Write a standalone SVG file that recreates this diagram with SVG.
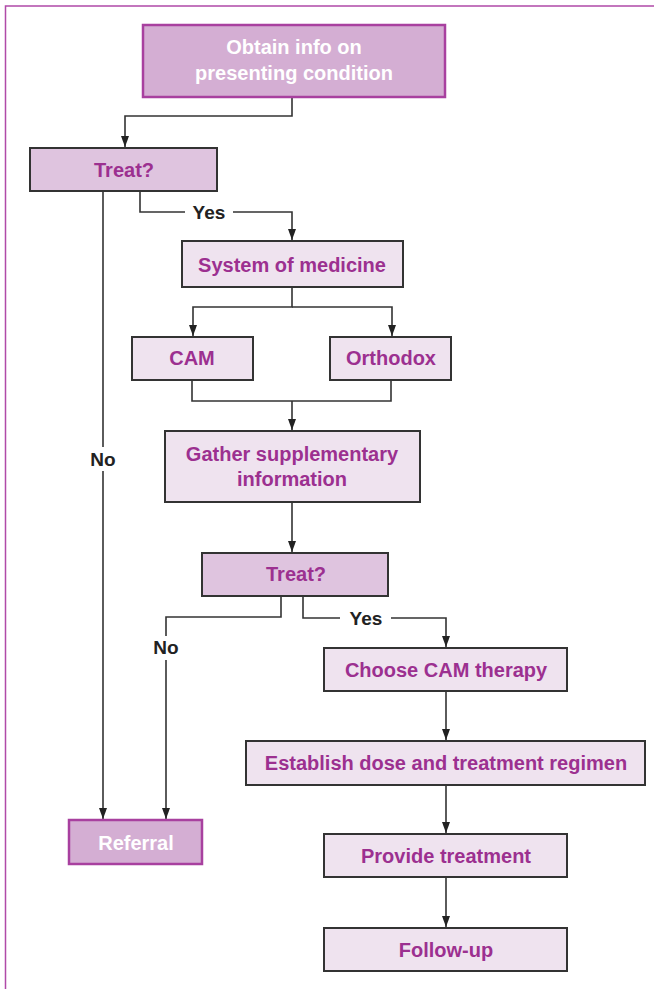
<svg xmlns="http://www.w3.org/2000/svg" width="654" height="989" viewBox="0 0 654 989">
<style>
.box{stroke:#333;stroke-width:2}
.light{fill:#efe3ef}
.mid{fill:#dfc4df}
.dark{fill:#d4aed3;stroke:#a8409f;stroke-width:2.5}
.t{font-family:"Liberation Sans",Arial,sans-serif;font-weight:bold;font-size:20px;fill:#9c3090;text-anchor:middle}
.w{fill:#ffffff}
.lbl{font-family:"Liberation Sans",Arial,sans-serif;font-weight:bold;font-size:19px;fill:#222;text-anchor:middle}
.c{fill:none;stroke:#333;stroke-width:1.6}
</style>
<defs>
<marker id="a" markerWidth="12" markerHeight="12" refX="11" refY="6" orient="auto" markerUnits="userSpaceOnUse">
<path d="M0,2 L11,6 L0,10 Z" fill="#222"/>
</marker>
</defs>
<rect width="654" height="989" fill="#fff"/>
<path d="M5.5,989 V6 H654" fill="none" stroke="#b04aa8" stroke-width="1.5"/>

<g id="connectors">
<path class="c" d="M292,97 V116 H125 V147" marker-end="url(#a)"/>
<path class="c" d="M140,192 V212 H185"/>
<path class="c" d="M233,212 H292 V240" marker-end="url(#a)"/>
<path class="c" d="M103,192 V447"/>
<path class="c" d="M103,471 V819" marker-end="url(#a)"/>
<path class="c" d="M292,287 V307 H193 V336" marker-end="url(#a)"/>
<path class="c" d="M292,307 H392 V336" marker-end="url(#a)"/>
<path class="c" d="M192,380 V401 H391 V380"/>
<path class="c" d="M292,401 V430" marker-end="url(#a)"/>
<path class="c" d="M292,502 V552" marker-end="url(#a)"/>
<path class="c" d="M281,596 V617 H166 V636"/>
<path class="c" d="M166,660 V819" marker-end="url(#a)"/>
<path class="c" d="M303,596 V618 H340"/>
<path class="c" d="M391,618 H446 V647" marker-end="url(#a)"/>
<path class="c" d="M446,691 V740" marker-end="url(#a)"/>
<path class="c" d="M446,785 V833" marker-end="url(#a)"/>
<path class="c" d="M446,877 V927" marker-end="url(#a)"/>
<text class="lbl" x="209" y="219">Yes</text>
<text class="lbl" x="103" y="466">No</text>
<text class="lbl" x="166" y="654">No</text>
<text class="lbl" x="366" y="625">Yes</text>
</g>

<g id="obtain">
<rect class="dark" x="143" y="25" width="302" height="72"/>
<text class="t w" x="294" y="54">Obtain info on</text>
<text class="t w" x="294" y="80">presenting condition</text>
</g>
<g id="treat1">
<rect class="box mid" x="30" y="148" width="187" height="43"/>
<text class="t" x="124" y="177">Treat?</text>
</g>
<g id="system">
<rect class="box light" x="182" y="241" width="221" height="46"/>
<text class="t" x="292" y="272">System of medicine</text>
</g>
<g id="cam">
<rect class="box light" x="132" y="337" width="121" height="43"/>
<text class="t" x="192" y="365">CAM</text>
</g>
<g id="orthodox">
<rect class="box light" x="330" y="337" width="121" height="43"/>
<text class="t" x="391" y="365">Orthodox</text>
</g>
<g id="gather">
<rect class="box light" x="165" y="431" width="255" height="71"/>
<text class="t" x="292" y="461">Gather supplementary</text>
<text class="t" x="292" y="486">information</text>
</g>
<g id="treat2">
<rect class="box mid" x="202" y="553" width="186" height="43"/>
<text class="t" x="296" y="581">Treat?</text>
</g>
<g id="choose">
<rect class="box light" x="324" y="648" width="243" height="43"/>
<text class="t" x="446" y="677">Choose CAM therapy</text>
</g>
<g id="establish">
<rect class="box light" x="246" y="741" width="399" height="44"/>
<text class="t" x="446" y="770">Establish dose and treatment regimen</text>
</g>
<g id="provide">
<rect class="box light" x="324" y="834" width="243" height="43"/>
<text class="t" x="446" y="863">Provide treatment</text>
</g>
<g id="followup">
<rect class="box light" x="324" y="928" width="243" height="43"/>
<text class="t" x="446" y="957">Follow-up</text>
</g>
<g id="referral">
<rect class="dark" x="69" y="820" width="133" height="44"/>
<text class="t w" x="136" y="850">Referral</text>
</g>
</svg>
